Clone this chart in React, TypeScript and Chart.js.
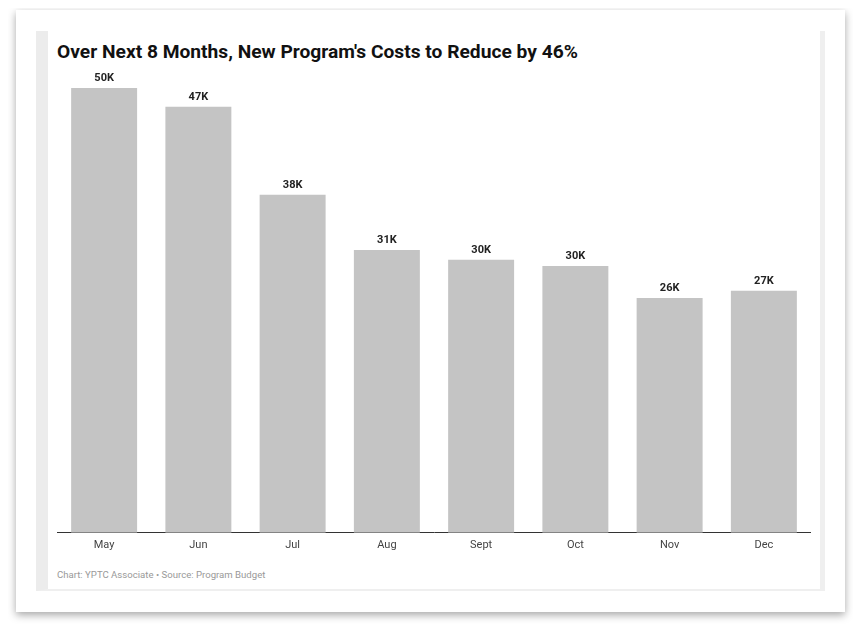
import React, { useEffect, useRef } from "react";
import { Chart, registerables } from "chart.js";

Chart.register(...registerables);

const months = ["May", "Jun", "Jul", "Aug", "Sept", "Oct", "Nov", "Dec"];
const costs = [50000, 47900, 38000, 31800, 30700, 30000, 26400, 27200];
const yMax = 50000;
const titleText = "Over Next 8 Months, New Program's Costs to Reduce by 46%";
const footerText = "Chart: YPTC Associate \u2022 Source: Program Budget";

const fmtK = (v: number) => Math.floor(v / 1000) + "K";

const labelPlugin = {
  id: "barLabels",
  afterDatasetsDraw(chart: any) {
    const { ctx } = chart;
    const meta = chart.getDatasetMeta(0);
    ctx.save();
    ctx.font = "bold 11px Roboto";
    ctx.fillStyle = "#222";
    ctx.textAlign = "center";
    ctx.textBaseline = "bottom";
    meta.data.forEach((bar: any, i: number) => {
      ctx.fillText(fmtK(costs[i]), bar.x, bar.y - 4);
    });
    ctx.restore();
  },
};

export default function App() {
  const ref = useRef<HTMLCanvasElement>(null);
  useEffect(() => {
    if (!ref.current) return;
    const chart = new Chart(ref.current, {
      type: "bar",
      data: {
        labels: months,
        datasets: [
          {
            data: costs,
            backgroundColor: "#c4c4c4",
            barPercentage: 0.7,
            categoryPercentage: 1,
          },
        ],
      },
      options: {
        animation: false,
        responsive: false,
        maintainAspectRatio: false,
        layout: { padding: { top: 28, left: 0, right: 0, bottom: 0 } },
        plugins: { legend: { display: false }, tooltip: { enabled: false } },
        scales: {
          x: {
            grid: { display: false },
            border: { display: true, color: "#333", width: 1 },
            ticks: { color: "#444", font: { family: "Roboto", size: 11 }, padding: -2 },
          },
          y: { display: false, min: 0, max: yMax },
        },
      },
      plugins: [labelPlugin],
    });
    return () => chart.destroy();
  }, []);

  return (
    <div style={{ position: "relative", width: 845, height: 616 }}>
      <div
        style={{
          position: "absolute",
          left: 8,
          top: 2,
          width: 829,
          height: 602,
          background: "#fff",
          boxShadow: "0 3px 8px rgba(0,0,0,0.35)",
        }}
      />
      <div
        style={{
          position: "absolute",
          left: 28,
          top: 23,
          width: 789,
          height: 560,
          boxSizing: "border-box",
          borderLeft: "12px solid #ececec",
          borderRight: "5px solid #efefef",
          borderBottom: "2px solid #efefef",
          background: "#fff",
        }}
      />
      <div
        style={{
          position: "absolute",
          left: 49,
          top: 33,
          fontFamily: "Roboto",
          fontWeight: 700,
          fontSize: 19.2,
          lineHeight: "22px",
          color: "#111",
          whiteSpace: "nowrap",
        }}
      >
        {titleText}
      </div>
      <canvas
        ref={ref}
        width={754}
        height={490}
        style={{ position: "absolute", left: 49, top: 52, width: 754, height: 490 }}
      />
      <div
        style={{
          position: "absolute",
          left: 49,
          top: 561,
          fontFamily: "Roboto",
          fontSize: 9.6,
          lineHeight: "12px",
          color: "#999",
          whiteSpace: "nowrap",
        }}
      >
        {footerText}
      </div>
    </div>
  );
}
